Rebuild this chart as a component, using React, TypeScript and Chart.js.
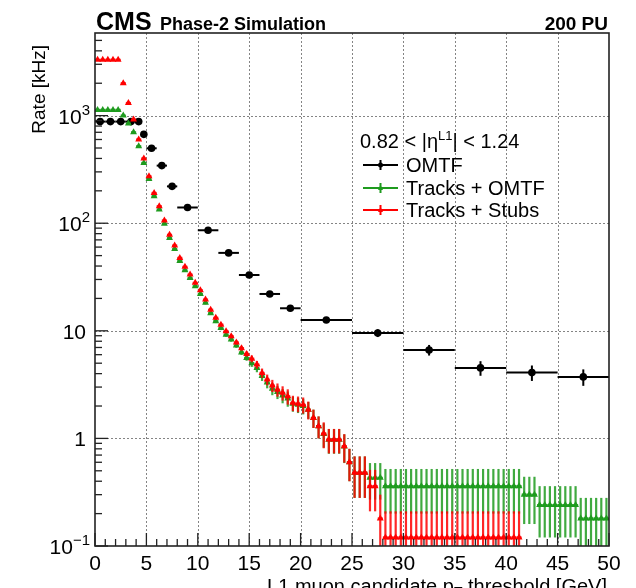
import React, { useEffect, useRef } from "react";
import { Chart, registerables } from "chart.js";
Chart.register(...registerables);

const X_MIN = 0;
const X_MAX = 50;
const Y_MIN = 0.1;
const Y_MAX = 5860;

// OMTF (variable bins)
const omtfLow = [0, 1, 2, 3, 4, 4.5, 5, 6, 7, 8, 10, 12, 14, 16, 18, 20, 25, 30, 35, 40, 45];
const omtfHigh = [1, 2, 3, 4, 4.5, 5, 6, 7, 8, 10, 12, 14, 16, 18, 20, 25, 30, 35, 40, 45, 50];
const omtfRate = [880, 880, 880, 880, 880, 670, 497, 343, 220, 140, 86, 53, 33, 22, 16.2, 12.6, 9.55, 6.64, 4.52, 4.09, 3.73];
const omtfErr = [10, 10, 10, 10, 10, 9, 7, 6, 5, 3, 2, 1.5, 1, 0.8, 0.6, 0.5, 0.8, 0.75, 0.7, 0.67, 0.65];

// 0.5 GeV bins
const fineLow = [0, 0.5, 1, 1.5, 2, 2.5, 3, 3.5, 4, 4.5, 5, 5.5, 6, 6.5, 7, 7.5, 8, 8.5, 9, 9.5,
  10, 10.5, 11, 11.5, 12, 12.5, 13, 13.5, 14, 14.5, 15, 15.5, 16, 16.5, 17, 17.5, 18, 18.5, 19, 19.5,
  20, 20.5, 21, 21.5, 22, 22.5, 23, 23.5, 24, 24.5, 25, 25.5, 26, 26.5, 27, 27.5, 28, 28.5, 29, 29.5,
  30, 30.5, 31, 31.5, 32, 32.5, 33, 33.5, 34, 34.5, 35, 35.5, 36, 36.5, 37, 37.5, 38, 38.5, 39, 39.5,
  40, 40.5, 41, 41.5, 42, 42.5, 43, 43.5, 44, 44.5, 45, 45.5, 46, 46.5, 47, 47.5, 48, 48.5, 49, 49.5];
const fineWidth = 0.5;

const tkStubRate = [3300, 3300, 3300, 3300, 3300, 2000, 1310, 920, 600, 400,
  273, 191, 144, 106, 78, 62, 47.6, 39.3, 33.3, 27.9,
  23.8, 19.5, 15.7, 13.2, 11.4, 9.9, 8.9, 7.8, 6.9, 6.1,
  5.5, 4.85, 4.06, 3.52, 3.1, 2.84, 2.65, 2.46, 2.14, 2.1,
  2.05, 1.85, 1.55, 1.3, 1.11, 0.975, 0.975, 0.975, 0.845, 0.6,
  0.48, 0.48, 0.48, 0.36, 0.36, 0.18, 0.12, 0.12, 0.12, 0.12,
  0.12, 0.12, 0.12, 0.12, 0.12, 0.12, 0.12, 0.12, 0.12, 0.12,
  0.12, 0.12, 0.12, 0.12, 0.12, 0.12, 0.12, 0.12, 0.12, 0.12,
  0.12, 0.12, 0.12, null, null, null, null, null, null, null,
  null, null, null, null, null, null, null, null, null, null];
const tkStubErr = [40, 40, 40, 40, 40, 30, 20, 15, 10, 8,
  6, 4.5, 3.5, 2.7, 2, 1.7, 1.3, 1.1, 1, 0.9,
  0.8, 0.7, 0.6, 0.5, 0.45, 0.4, 0.38, 0.35, 0.35, 0.35,
  0.4, 0.4, 0.4, 0.4, 0.4, 0.4, 0.4, 0.4, 0.35, 0.35,
  0.35, 0.35, 0.3, 0.3, 0.3, 0.25, 0.25, 0.25, 0.25, 0.2,
  0.2, 0.2, 0.2, 0.15, 0.15, 0.12, 0.09, 0.09, 0.09, 0.09,
  0.09, 0.09, 0.09, 0.09, 0.09, 0.09, 0.09, 0.09, 0.09, 0.09,
  0.09, 0.09, 0.09, 0.09, 0.09, 0.09, 0.09, 0.09, 0.09, 0.09,
  0.09, 0.09, 0.09, null, null, null, null, null, null, null,
  null, null, null, null, null, null, null, null, null, null];

const tkOmtfRate = [1130, 1130, 1130, 1130, 1130, 1000, 843, 700, 519, 363,
  258, 178, 134, 99, 73, 57.5, 44.5, 36.5, 31, 26,
  22, 18.2, 14.6, 12.3, 10.6, 9.2, 8.3, 7.3, 6.3, 5.6,
  5.0, 4.5, 3.8, 3.3, 2.9, 2.7, 2.5, 2.35, 2.1, 2.05,
  2.0, 1.85, 1.55, 1.3, 1.1, 0.97, 0.97, 0.97, 0.84, 0.6,
  0.48, 0.48, 0.48, 0.43, 0.43, 0.43, 0.36, 0.36, 0.36, 0.36,
  0.36, 0.36, 0.36, 0.36, 0.36, 0.36, 0.36, 0.36, 0.36, 0.36,
  0.36, 0.36, 0.36, 0.36, 0.36, 0.36, 0.36, 0.36, 0.36, 0.36,
  0.36, 0.36, 0.36, 0.30, 0.30, 0.30, 0.24, 0.24, 0.24, 0.24,
  0.24, 0.24, 0.24, 0.24, 0.18, 0.18, 0.18, 0.18, 0.18, 0.18];
const tkOmtfErr = [15, 15, 15, 15, 15, 14, 12, 10, 8, 6,
  5, 4, 3, 2.5, 2, 1.6, 1.2, 1, 0.9, 0.8,
  0.7, 0.6, 0.55, 0.5, 0.45, 0.4, 0.38, 0.35, 0.33, 0.33,
  0.38, 0.38, 0.38, 0.38, 0.38, 0.38, 0.38, 0.38, 0.33, 0.33,
  0.33, 0.33, 0.3, 0.3, 0.28, 0.25, 0.25, 0.25, 0.25, 0.2,
  0.2, 0.2, 0.2, 0.16, 0.16, 0.16, 0.16, 0.16, 0.16, 0.16,
  0.16, 0.16, 0.16, 0.16, 0.16, 0.16, 0.16, 0.16, 0.16, 0.16,
  0.16, 0.16, 0.16, 0.16, 0.16, 0.16, 0.16, 0.16, 0.16, 0.16,
  0.16, 0.16, 0.16, 0.14, 0.14, 0.14, 0.12, 0.12, 0.12, 0.12,
  0.12, 0.12, 0.12, 0.12, 0.1, 0.1, 0.1, 0.1, 0.1, 0.1];

const xTickValues = [0, 5, 10, 15, 20, 25, 30, 35, 40, 45, 50];
const xTickLabels = ["0", "5", "10", "15", "20", "25", "30", "35", "40", "45", "50"];
const yTickValues = [0.1, 1, 10, 100, 1000];
const yTickBase = ["10", "1", "10", "10", "10"];
const yTickExp = ["\u22121", "", "", "2", "3"];

const seriesNames = ["OMTF", "Tracks + OMTF", "Tracks + Stubs"];
const seriesColors = ["#000000", "#1e9b1e", "#ff0000"];

const FONT = "'Liberation Sans', Arial, Helvetica, sans-serif";

function makePoints(low: number[], high: number[], rate: (number | null)[]) {
  return rate.map((v, i) => ({ x: (low[i] + high[i]) / 2, y: v }));
}

const rootPlugin = {
  id: "rootStyle",
  beforeDatasetsDraw(chart: any) {
    const { ctx, chartArea: ca, scales } = chart;
    const xs = scales.x, ys = scales.y;
    ctx.save();
    ctx.strokeStyle = "rgba(110,110,110,0.85)";
    ctx.lineWidth = 1;
    ctx.setLineDash([2, 2]);
    xTickValues.forEach((v) => {
      if (v <= X_MIN || v >= X_MAX) return;
      const px = Math.round(xs.getPixelForValue(v)) + 0.5;
      ctx.beginPath(); ctx.moveTo(px, ca.top); ctx.lineTo(px, ca.bottom); ctx.stroke();
    });
    yTickValues.forEach((v) => {
      if (v <= Y_MIN) return;
      const py = Math.round(ys.getPixelForValue(v)) + 0.5;
      ctx.beginPath(); ctx.moveTo(ca.left, py); ctx.lineTo(ca.right, py); ctx.stroke();
    });
    ctx.restore();
  },
  beforeDatasetDraw(chart: any, args: any) {
    const { ctx, chartArea: ca, scales } = chart;
    const xs = scales.x, ys = scales.y;
    const ds = chart.data.datasets[args.index];
    ctx.save();
    ctx.beginPath();
    ctx.rect(ca.left, ca.top, ca.right - ca.left, ca.bottom - ca.top);
    ctx.clip();
    ctx.strokeStyle = ds.barColor;
    ctx.lineWidth = ds.barWidth;
    ds.data.forEach((p: any, i: number) => {
      if (p.y == null) return;
      const py = ys.getPixelForValue(p.y);
      const px = xs.getPixelForValue(p.x);
      const x1 = xs.getPixelForValue(ds.xLow[i]);
      const x2 = xs.getPixelForValue(ds.xHigh[i]);
      ctx.beginPath(); ctx.moveTo(x1, py); ctx.lineTo(x2, py); ctx.stroke();
      const e = ds.err[i];
      if (e) {
        const hi = ys.getPixelForValue(p.y + e);
        const lo = p.y - e > 0 ? ys.getPixelForValue(p.y - e) : ca.bottom + 5;
        ctx.beginPath(); ctx.moveTo(px, hi); ctx.lineTo(px, lo); ctx.stroke();
      }
    });
    ctx.restore();
  },
  afterDatasetsDraw(chart: any) {
    const { ctx, chartArea: ca, scales } = chart;
    const xs = scales.x, ys = scales.y;
    ctx.save();
    // frame
    ctx.strokeStyle = "#222";
    ctx.lineWidth = 1.6;
    ctx.strokeRect(ca.left, ca.top, ca.right - ca.left, ca.bottom - ca.top);
    // x ticks
    ctx.lineWidth = 1.3;
    for (let v = X_MIN; v <= X_MAX; v += 1) {
      const px = xs.getPixelForValue(v);
      const len = v % 5 === 0 ? 13 : 7;
      ctx.beginPath(); ctx.moveTo(px, ca.bottom); ctx.lineTo(px, ca.bottom - len); ctx.stroke();
    }
    // y ticks
    for (let d = -1; d <= 3; d++) {
      for (let k = 1; k <= 9; k++) {
        const v = k * Math.pow(10, d);
        if (v < Y_MIN || v > Y_MAX) continue;
        const py = ys.getPixelForValue(v);
        const len = k === 1 ? 13 : 7;
        ctx.beginPath(); ctx.moveTo(ca.left, py); ctx.lineTo(ca.left + len, py); ctx.stroke();
      }
    }
    ctx.fillStyle = "#000";
    ctx.textBaseline = "alphabetic";
    // x tick labels
    ctx.font = `21px ${FONT}`;
    ctx.textAlign = "center";
    xTickValues.forEach((v, i) => {
      ctx.fillText(xTickLabels[i], xs.getPixelForValue(v), 570);
    });
    // y tick labels
    yTickValues.forEach((v, i) => {
      const py = ys.getPixelForValue(v);
      const base = yTickBase[i];
      const exp = yTickExp[i];
      ctx.font = `15px ${FONT}`;
      const ew = exp ? ctx.measureText(exp).width : 0;
      ctx.font = `21px ${FONT}`;
      const bw = ctx.measureText(base).width;
      const right = exp ? 90 : 86;
      ctx.textAlign = "left";
      ctx.fillText(base, right - ew - bw, py + 8);
      if (exp) {
        ctx.font = `15px ${FONT}`;
        ctx.fillText(exp, right - ew, py - 1);
      }
    });
    // y title
    ctx.save();
    ctx.translate(45, 45);
    ctx.rotate(-Math.PI / 2);
    ctx.font = `19px ${FONT}`;
    ctx.textAlign = "right";
    ctx.fillText("Rate [kHz]", 0, 0);
    ctx.restore();
    // x title
    {
      ctx.font = `20px ${FONT}`;
      const a = "L1 muon candidate p";
      const b = " threshold [GeV]";
      const wa = ctx.measureText(a).width;
      const wb = ctx.measureText(b).width;
      ctx.font = `14px ${FONT}`;
      const wt = ctx.measureText("T").width;
      const start = 607 - (wa + wt + wb);
      const base = 593;
      ctx.textAlign = "left";
      ctx.font = `20px ${FONT}`;
      ctx.fillText(a, start, base);
      ctx.font = `14px ${FONT}`;
      ctx.fillText("T", start + wa, base + 4);
      ctx.font = `20px ${FONT}`;
      ctx.fillText(b, start + wa + wt, base);
    }
    // header
    ctx.textAlign = "left";
    ctx.font = `bold 25px ${FONT}`;
    ctx.fillText("CMS", 96, 30);
    ctx.font = `bold 18px ${FONT}`;
    ctx.fillText("Phase-2 Simulation", 160, 30);
    ctx.textAlign = "right";
    ctx.font = `bold 19px ${FONT}`;
    ctx.fillText("200 PU", 608, 30);
    // legend header
    {
      let x = 360;
      const y = 148;
      ctx.textAlign = "left";
      const parts: [string, number, number][] = [
        ["0.82 < |\u03b7", 20, 0],
        ["L1", 13, -8],
        ["| < 1.24", 20, 0],
      ];
      parts.forEach(([s, size, dy]) => {
        ctx.font = `${size}px ${FONT}`;
        ctx.fillText(s, x, y + dy);
        x += ctx.measureText(s).width;
      });
    }
    // legend entries
    const rows = [165, 188, 210];
    const styles = ["circle", "triangle", "triangle"];
    rows.forEach((ry, i) => {
      ctx.strokeStyle = seriesColors[i];
      ctx.fillStyle = seriesColors[i];
      ctx.lineWidth = 2;
      ctx.beginPath(); ctx.moveTo(363, ry); ctx.lineTo(398, ry); ctx.stroke();
      ctx.beginPath(); ctx.moveTo(380.5, ry - 5); ctx.lineTo(380.5, ry + 5); ctx.stroke();
      ctx.beginPath();
      if (styles[i] === "circle") {
        ctx.arc(380.5, ry, 2.5, 0, Math.PI * 2);
      } else {
        ctx.moveTo(380.5, ry - 3); ctx.lineTo(383, ry + 2); ctx.lineTo(378, ry + 2); ctx.closePath();
      }
      ctx.fill();
      ctx.fillStyle = "#000";
      ctx.font = `20px ${FONT}`;
      ctx.textAlign = "left";
      ctx.fillText(seriesNames[i], 406, ry + 7);
    });
    ctx.restore();
  },
};

export default function App() {
  const ref = useRef<HTMLCanvasElement | null>(null);
  useEffect(() => {
    document.body.style.margin = "0";
    const canvas = ref.current;
    if (!canvas) return;
    const chart = new Chart(canvas, {
      type: "scatter",
      data: {
        datasets: [
          {
            label: seriesNames[2],
            data: makePoints(fineLow, fineLow.map((v) => v + fineWidth), tkStubRate),
            xLow: fineLow,
            xHigh: fineLow.map((v) => v + fineWidth),
            err: tkStubErr,
            barColor: "rgba(255,0,0,0.85)",
            barWidth: 2.2,
            backgroundColor: seriesColors[2],
            borderColor: seriesColors[2],
            pointStyle: "triangle",
            pointRadius: 4,
            pointBorderWidth: 0,
            showLine: false,
          } as any,
          {
            label: seriesNames[1],
            data: makePoints(fineLow, fineLow.map((v) => v + fineWidth), tkOmtfRate),
            xLow: fineLow,
            xHigh: fineLow.map((v) => v + fineWidth),
            err: tkOmtfErr,
            barColor: "rgba(30,155,30,0.85)",
            barWidth: 2.2,
            backgroundColor: seriesColors[1],
            borderColor: seriesColors[1],
            pointStyle: "triangle",
            pointRadius: 4,
            pointBorderWidth: 0,
            showLine: false,
          } as any,
          {
            label: seriesNames[0],
            data: makePoints(omtfLow, omtfHigh, omtfRate),
            xLow: omtfLow,
            xHigh: omtfHigh,
            err: omtfErr,
            barColor: "#000",
            barWidth: 2,
            backgroundColor: seriesColors[0],
            borderColor: seriesColors[0],
            pointStyle: "circle",
            pointRadius: 3.8,
            pointBorderWidth: 0,
            showLine: false,
          } as any,
        ],
      },
      options: {
        animation: false,
        responsive: false,
        devicePixelRatio: 1,
        layout: { padding: { left: 95, right: 27, top: 33, bottom: 42 } },
        plugins: { legend: { display: false }, tooltip: { enabled: false } },
        scales: {
          x: { type: "linear", min: X_MIN, max: X_MAX, display: false },
          y: { type: "logarithmic", min: Y_MIN, max: Y_MAX, display: false },
        },
      },
      plugins: [rootPlugin],
    });
    return () => chart.destroy();
  }, []);
  return (
    <div style={{ width: 636, height: 588, background: "#fff" }}>
      <canvas ref={ref} width={636} height={588} style={{ display: "block" }} />
    </div>
  );
}
